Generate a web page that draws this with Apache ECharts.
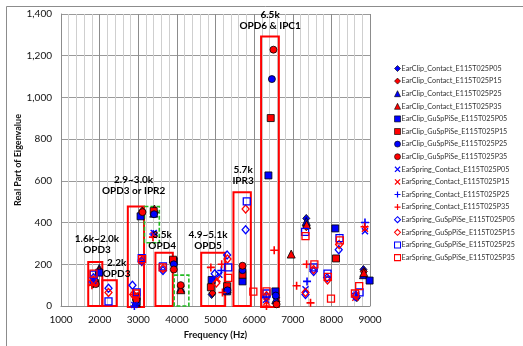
<!DOCTYPE html>
<html>
<head>
<meta charset="utf-8">
<script src="https://cdn.jsdelivr.net/npm/echarts@6/dist/echarts.min.js"></script>
<style>
  html, body { margin: 0; padding: 0; background: #fff; }
  #chart { width: 523px; height: 346px; }
</style>
</head>
<body>
<div id="chart"></div>
<script>
// Real part of eigenvalue versus frequency, per configuration.
// Each list holds [frequency (Hz), real part] pairs.
const clipContactP05 = [[1880,115],[2950,25],[3080,440],[3900,210],[4900,55],[6570,40],[7350,420],[8660,40],[8830,175]];
const clipContactP15 = [[1830,105],[2950,35],[3100,455],[4100,95],[4920,62],[6580,20],[7350,380],[8840,165]];
const clipContactP25 = [[1990,180],[2950,15],[3400,445],[4100,85],[5300,82],[6560,30],[7350,405],[8830,150]];
const clipContactP35 = [[1985,172],[2940,20],[3420,465],[4100,78],[6960,249],[7360,390],[8840,160]];
const clipGuSpP05 = [[1990,160],[2960,20],[3060,430],[3920,215],[4900,125],[5300,70],[5700,118],[6370,626],[6550,70],[8100,372],[8990,122]];
const clipGuSpP15 = [[1880,110],[2950,45],[3400,455],[3900,222],[4880,90],[5300,95],[5700,150],[6430,901],[8120,228]];
const clipGuSpP25 = [[1870,120],[2960,40],[3410,440],[3920,200],[5310,75],[5700,172],[6460,1088],[6560,50]];
const clipGuSpP35 = [[1900,105],[2950,30],[3110,450],[3920,175],[4100,100],[5700,193],[6500,1229],[6580,8]];
const springContactP05 = [[1830,120],[2900,5],[3400,350],[5100,150],[6310,30],[7330,80],[8650,55],[8870,358]];
const springContactP15 = [[1810,110],[2920,50],[3090,215],[3400,340],[5050,130],[6320,20],[8620,40],[8870,370]];
const springContactP25 = [[1820,115],[2900,0],[3390,345],[5150,170],[6310,40],[7370,118],[8630,60],[8870,400]];
const springContactP35 = [[1800,100],[2890,55],[3090,210],[3380,330],[4880,185],[5160,200],[5180,65],[6320,0],[6520,267],[7100,97],[7360,200],[7460,15],[8860,380]];
const springGuSpP05 = [[1840,135],[2230,85],[2850,100],[3090,215],[3640,170],[4980,155],[5300,245],[5780,366],[6320,45],[7330,55],[7540,165],[7890,135],[8190,270],[8620,45]];
const springGuSpP15 = [[1840,125],[2230,65],[2870,55],[3090,220],[3640,180],[5020,110],[5310,225],[5780,465],[6320,50],[7330,65],[7540,175],[7900,125],[8200,295],[8640,50]];
const springGuSpP25 = [[1850,150],[2230,22],[2960,65],[3090,230],[3640,190],[5330,185],[5810,502],[6320,60],[7320,355],[7540,185],[7900,155],[8210,325],[8730,65]];
const springGuSpP35 = [[1840,155],[2940,60],[3100,225],[3630,185],[5330,135],[5980,69],[6320,70],[7330,335],[7560,200],[7910,140],[7990,35],[8220,315],[8610,60],[8720,95]];

// Axis ticks
const freqTicks = [1000, 2000, 3000, 4000, 5000, 6000, 7000, 8000, 9000];
const valueTicks = [0, 200, 400, 600, 800, 1000, 1200, 1400];

// Mode groupings: [f0, f1, v0, v1, style] (style 0 = solid red, 1 = dashed green)
const modeBoxes = [
  [1705, 2070, 0, 211, 0],
  [2070, 2445, 0, 123, 0],
  [2730, 3150, -5, 477, 0],
  [3160, 3545, 303, 477, 1],
  [3445, 3895, 0, 255, 0],
  [3930, 4310, 0, 148, 1],
  [4630, 5250, 0, 255, 0],
  [5465, 5915, 0, 545, 0],
  [6180, 6640, -5, 1292, 0]
];
// Mode names: [f, v, text]
const modeNames = [
  [6413, 1370, '6.5k\nOPD6 & IPC1'],
  [2880, 577, '2.9~3.0k\nOPD3 or IPR2'],
  [5714, 625, '5.7k\nIPR3'],
  [1932, 296, '1.6k~2.0k\nOPD3'],
  [2440, 181, '2.2k\nOPD3'],
  [3620, 315, '3.5k\nOPD4'],
  [4807, 315, '4.9~5.1k\nOPD5']
];

const BLUE = '#0000ff', RED = '#ff0000';
const plusPath = 'path://M4,0H6V4H10V6H6V10H4V6H0V4H4Z';
const crossPath = 'path://M1.4,0L5,3.6L8.6,0L10,1.4L6.4,5L10,8.6L8.6,10L5,6.4L1.4,10L0,8.6L3.6,5L0,1.4Z';

const seriesDefs = [
  ['EarClip_Contact_E115T025P05', clipContactP05, 'diamond', BLUE, true, [7, 8]],
  ['EarClip_Contact_E115T025P15', clipContactP15, 'diamond', RED, true, [7, 8]],
  ['EarClip_Contact_E115T025P25', clipContactP25, 'triangle', BLUE, true, 8],
  ['EarClip_Contact_E115T025P35', clipContactP35, 'triangle', RED, true, 8],
  ['EarClip_GuSpPiSe_E115T025P05', clipGuSpP05, 'rect', BLUE, true, 7],
  ['EarClip_GuSpPiSe_E115T025P15', clipGuSpP15, 'rect', RED, true, 7],
  ['EarClip_GuSpPiSe_E115T025P25', clipGuSpP25, 'circle', BLUE, true, 7],
  ['EarClip_GuSpPiSe_E115T025P35', clipGuSpP35, 'circle', RED, true, 7],
  ['EarSpring_Contact_E115T025P05', springContactP05, crossPath, BLUE, 'mark', 7],
  ['EarSpring_Contact_E115T025P15', springContactP15, crossPath, RED, 'mark', 7],
  ['EarSpring_Contact_E115T025P25', springContactP25, plusPath, BLUE, 'mark', 8],
  ['EarSpring_Contact_E115T025P35', springContactP35, plusPath, RED, 'mark', 8],
  ['EarSpring_GuSpPiSe_E115T025P05', springGuSpP05, 'diamond', BLUE, false, [7, 8]],
  ['EarSpring_GuSpPiSe_E115T025P15', springGuSpP15, 'diamond', RED, false, [7, 8]],
  ['EarSpring_GuSpPiSe_E115T025P25', springGuSpP25, 'rect', BLUE, false, 7],
  ['EarSpring_GuSpPiSe_E115T025P35', springGuSpP35, 'rect', RED, false, 7]
];

function styleFor(color, filled, bw) {
  if (filled === true) return { color: color, borderColor: '#000', borderWidth: bw * 0.8, opacity: 1 };
  if (filled === 'mark') return { color: color, borderWidth: 0, opacity: 1 };
  return { color: 'rgba(255,255,255,0)', borderColor: color, borderWidth: bw * 1.3, opacity: 1 };
}

const scatterSeries = seriesDefs.map(([name, data, symbol, color, filled, size]) => ({
  type: 'scatter', name: name, data: data, symbol: symbol, symbolSize: size,
  itemStyle: styleFor(color, filled, 1), z: 4, animation: false,
  emphasis: { disabled: true }
}));

const boxSeries = {
  type: 'custom', name: 'modeBoxes', data: modeBoxes, z: 3, silent: true, clip: false,
  encode: { x: [0, 1], y: [2, 3] }, animation: false,
  renderItem: (params, api) => {
    const a = api.coord([api.value(0), api.value(3)]);
    const b = api.coord([api.value(1), api.value(2)]);
    const green = api.value(4) === 1;
    return {
      type: 'rect',
      shape: { x: a[0], y: a[1], width: b[0] - a[0], height: b[1] - a[1] },
      style: green
        ? { fill: 'none', stroke: '#22bb22', lineWidth: 1.6, lineDash: [4, 2] }
        : { fill: 'none', stroke: '#ff0000', lineWidth: 2 }
    };
  }
};

const nameSeries = {
  type: 'custom', name: 'modeNames', data: modeNames.map(d => [d[0], d[1]]), z: 6, silent: true, clip: false,
  animation: false,
  renderItem: (params, api) => {
    const p = api.coord([api.value(0), api.value(1)]);
    return {
      type: 'text', x: p[0], y: p[1],
      style: {
        text: modeNames[params.dataIndex][2], fill: '#000',
        font: 'bold 10px Lato, "Liberation Sans", sans-serif',
        align: 'center', verticalAlign: 'middle', lineHeight: 11
      }
    };
  }
};

const chart = echarts.init(document.getElementById('chart'), null, { renderer: 'canvas' });
chart.setOption({
  backgroundColor: '#fff',
  animation: false,
  textStyle: { fontFamily: 'Lato, "Liberation Sans", sans-serif' },
  graphic: [{
    type: 'rect', left: 4, top: 4, shape: { width: 560, height: 380 },
    style: { fill: 'none', stroke: '#8c8c8c', lineWidth: 1 }, silent: true, z: 0
  }],
  grid: { left: 61, right: 153, top: 14, bottom: 40, containLabel: false },
  legend: {
    orient: 'vertical', left: 389, top: 60,
    itemWidth: 6, itemHeight: 6, itemGap: 5.6,
    data: seriesDefs.map(([name, , symbol, color, filled]) => ({
      name: name, icon: symbol, itemStyle: styleFor(color, filled, 0.8)
    })),
    textStyle: { fontSize: 7.2, color: '#333', fontFamily: 'Lato, "Liberation Sans", sans-serif', padding: [0, 0, 0, -4] },
    selectedMode: false
  },
  xAxis: {
    type: 'value', min: freqTicks[0], max: freqTicks[freqTicks.length - 1], interval: 1000,
    name: 'Frequency (Hz)', nameLocation: 'middle', nameGap: 13,
    nameTextStyle: { fontSize: 9.5, fontWeight: 'bold', color: '#111' },
    axisLine: { show: true, lineStyle: { color: '#8c8c8c' } },
    axisTick: { show: false },
    axisLabel: { fontSize: 10, color: '#111', margin: 9, formatter: v => String(v) },
    splitLine: { show: true, lineStyle: { color: '#8c8c8c', width: 1 } },
    minorTick: { show: false, splitNumber: 5 },
    minorSplitLine: { show: true, lineStyle: { color: '#cfcfcf', width: 1 } }
  },
  yAxis: {
    type: 'value', min: valueTicks[0], max: valueTicks[valueTicks.length - 1], interval: 200,
    name: 'Real Part of Eigenvalue', nameLocation: 'middle', nameGap: 38, nameMoveOverlap: false,
    nameTextStyle: { fontSize: 9, fontWeight: 'bold', color: '#111' },
    axisLine: { show: true, lineStyle: { color: '#8c8c8c' } },
    axisTick: { show: false },
    axisLabel: {
      fontSize: 10, color: '#111', margin: 9,
      formatter: v => v.toLocaleString('en-US')
    },
    splitLine: { show: true, lineStyle: { color: '#9a9a9a', width: 1 } }
  },
  series: [boxSeries, ...scatterSeries, nameSeries]
});
</script>
</body>
</html>
